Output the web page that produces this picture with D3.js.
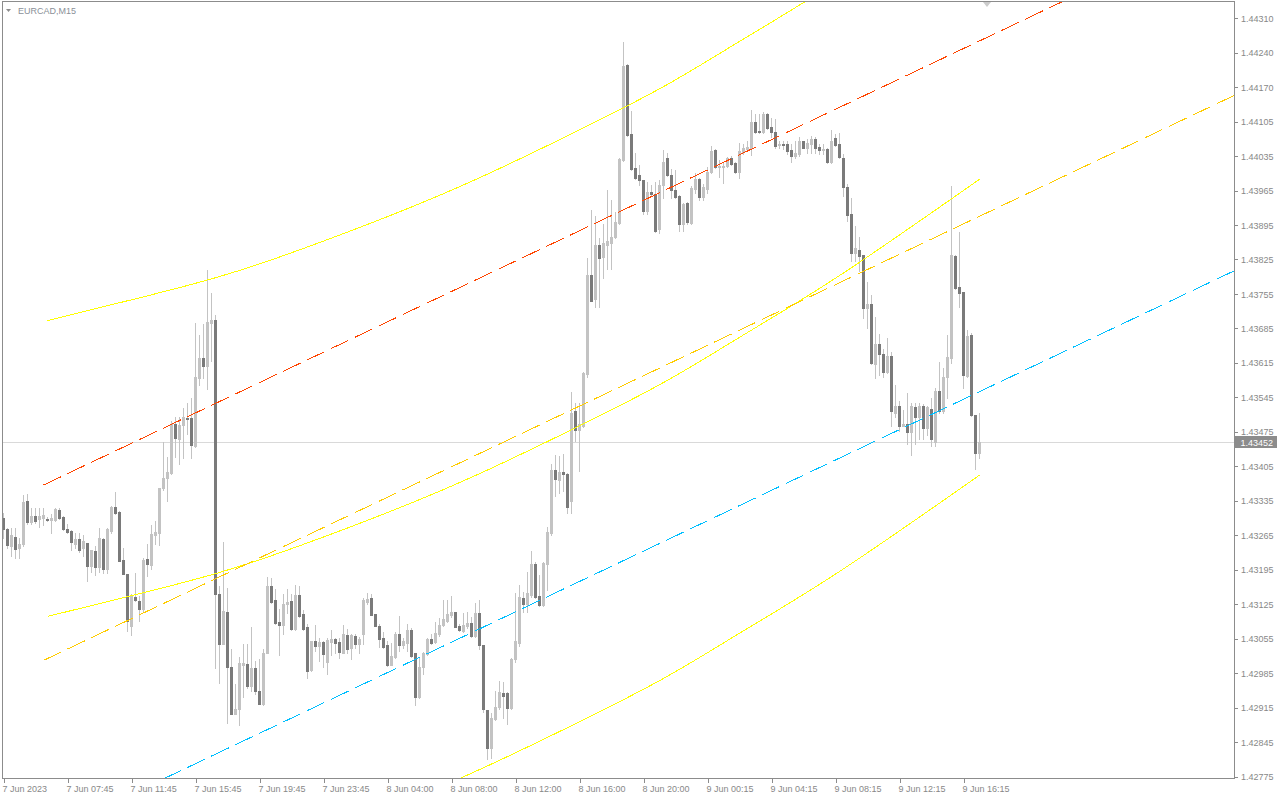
<!DOCTYPE html>
<html><head><meta charset="utf-8">
<script src="https://cdn.jsdelivr.net/npm/d3@7/dist/d3.min.js"></script>
<style>
html,body{margin:0;padding:0;background:#fff;}
svg{display:block;font-family:"Liberation Sans",Arial,sans-serif;}
</style></head><body>
<svg id="c" width="1280" height="800"></svg>
<script>
// ---- data (EURCAD M15) ----
const open=[
1.43299,1.43277,1.43242,1.43259,1.43238,1.43246,1.43333,1.43291,1.43303,1.43297,
1.43299,1.43297,1.43295,1.43295,1.43315,1.43301,1.43275,1.43271,1.43246,1.43255,
1.43238,1.43248,1.43202,1.43232,1.43200,1.43255,1.43196,1.43271,1.43321,1.43311,
1.43214,1.43184,1.43080,1.43139,1.43131,1.43115,1.43216,1.43204,1.43263,1.43267,
1.43360,1.43380,1.43390,1.43489,1.43459,1.43487,1.43500,1.43500,1.43445,1.43581,
1.43623,1.43605,1.43694,1.43700,1.43145,1.43044,1.43109,1.42997,1.42902,1.42912,
1.43001,1.43003,1.42959,1.42995,1.42949,1.42922,1.43024,1.43161,1.43133,1.43088,
1.43082,1.43125,1.43131,1.43074,1.43143,1.43103,1.43078,1.42991,1.43050,1.43040,
1.43048,1.43007,1.43048,1.43054,1.43048,1.43026,1.43062,1.43036,1.43060,1.43044,
1.43064,1.43129,1.43137,1.43103,1.43080,1.43056,1.43042,1.43001,1.43016,1.43064,
1.43042,1.43046,1.43072,1.43024,1.42935,1.42997,1.43022,1.43054,1.43048,1.43064,
1.43082,1.43090,1.43101,1.43109,1.43080,1.43070,1.43080,1.43086,1.43060,1.43105,
1.43042,1.42910,1.42833,1.42892,1.42916,1.42945,1.42945,1.42914,1.43012,1.43046,
1.43137,1.43125,1.43143,1.43206,1.43141,1.43123,1.43206,1.43267,1.43396,1.43376,
1.43392,1.43388,1.43333,1.43514,1.43477,1.43485,1.43589,1.43791,1.43741,1.43850,
1.43826,1.43850,1.43854,1.43868,1.43896,1.44022,1.44216,1.44075,1.44006,1.43992,
1.43982,1.43919,1.43959,1.43955,1.43884,1.43973,1.44026,1.43992,1.43963,1.43951,
1.43894,1.43935,1.43896,1.43965,1.43984,1.43949,1.43965,1.43998,1.44044,1.44008,
1.44008,1.44010,1.44026,1.44016,1.43998,1.44040,1.44046,1.44048,1.44099,1.44081,
1.44079,1.44117,1.44089,1.44079,1.44054,1.44056,1.44056,1.44044,1.44032,1.44036,
1.44062,1.44048,1.44056,1.44065,1.44050,1.44044,1.44046,1.44018,1.44067,1.44056,
1.44028,1.43969,1.43913,1.43834,1.43840,1.43830,1.43724,1.43732,1.43611,1.43651,
1.43631,1.43593,1.43627,1.43510,1.43524,1.43485,1.43489,1.43473,1.43522,1.43502,
1.43524,1.43481,1.43518,1.43453,1.43556,1.43514,1.43583,1.43623,1.43828,1.43765,
1.43755,1.43585,1.43668,1.43506,1.43429];
const high=[
1.43309,1.43279,1.43279,1.43279,1.43257,1.43344,1.43346,1.43319,1.43319,1.43319,
1.43319,1.43301,1.43307,1.43319,1.43319,1.43303,1.43287,1.43273,1.43267,1.43267,
1.43263,1.43248,1.43234,1.43242,1.43279,1.43257,1.43279,1.43323,1.43350,1.43313,
1.43238,1.43184,1.43145,1.43186,1.43141,1.43218,1.43246,1.43285,1.43293,1.43360,
1.43453,1.43421,1.43495,1.43502,1.43502,1.43520,1.43532,1.43542,1.43692,1.43668,
1.43690,1.43801,1.43753,1.43710,1.43161,1.43250,1.43157,1.43034,1.42963,1.43016,
1.43044,1.43044,1.43078,1.43009,1.43012,1.43034,1.43178,1.43176,1.43155,1.43115,
1.43145,1.43155,1.43145,1.43163,1.43161,1.43113,1.43084,1.43050,1.43082,1.43056,
1.43050,1.43056,1.43072,1.43056,1.43056,1.43082,1.43074,1.43064,1.43064,1.43058,
1.43137,1.43147,1.43145,1.43103,1.43084,1.43068,1.43050,1.43046,1.43068,1.43099,
1.43056,1.43084,1.43076,1.43024,1.43016,1.43028,1.43056,1.43064,1.43088,1.43095,
1.43133,1.43133,1.43141,1.43109,1.43084,1.43105,1.43107,1.43097,1.43127,1.43133,
1.43042,1.42910,1.42904,1.42949,1.42969,1.42967,1.42947,1.43014,1.43147,1.43163,
1.43149,1.43188,1.43232,1.43210,1.43182,1.43210,1.43281,1.43408,1.43425,1.43423,
1.43427,1.43390,1.43554,1.43532,1.43532,1.43593,1.43824,1.43921,1.43909,1.43866,
1.43894,1.43963,1.43941,1.43917,1.44028,1.44261,1.44218,1.44123,1.44038,1.44012,
1.43982,1.43979,1.43973,1.43979,1.43982,1.44044,1.44038,1.44004,1.44002,1.43953,
1.43935,1.43937,1.43971,1.43996,1.43986,1.43975,1.44008,1.44052,1.44046,1.44022,
1.44018,1.44030,1.44032,1.44018,1.44058,1.44056,1.44062,1.44125,1.44117,1.44117,
1.44121,1.44119,1.44107,1.44105,1.44062,1.44062,1.44062,1.44056,1.44062,1.44069,
1.44062,1.44065,1.44071,1.44069,1.44056,1.44056,1.44048,1.44083,1.44075,1.44077,
1.44036,1.43975,1.43947,1.43890,1.43868,1.43830,1.43777,1.43749,1.43706,1.43670,
1.43641,1.43662,1.43635,1.43568,1.43536,1.43516,1.43552,1.43532,1.43532,1.43532,
1.43530,1.43526,1.43542,1.43562,1.43615,1.43601,1.43668,1.43971,1.43830,1.43878,
1.43755,1.43678,1.43672,1.43506,1.43510];
const low=[
1.43257,1.43238,1.43222,1.43218,1.43218,1.43242,1.43287,1.43287,1.43289,1.43281,
1.43285,1.43293,1.43267,1.43293,1.43297,1.43273,1.43267,1.43234,1.43238,1.43230,
1.43222,1.43171,1.43188,1.43182,1.43188,1.43186,1.43186,1.43267,1.43307,1.43212,
1.43184,1.43070,1.43062,1.43131,1.43090,1.43111,1.43180,1.43196,1.43246,1.43244,
1.43354,1.43333,1.43388,1.43421,1.43408,1.43419,1.43469,1.43419,1.43441,1.43568,
1.43581,1.43560,1.43617,1.42995,1.42965,1.43044,1.42884,1.42902,1.42902,1.42880,
1.42935,1.42955,1.42949,1.42943,1.42922,1.42920,1.43024,1.43127,1.43084,1.43020,
1.43064,1.43105,1.43072,1.43072,1.43097,1.43072,1.42975,1.42989,1.43030,1.43009,
1.42997,1.42983,1.43020,1.43026,1.43014,1.43024,1.43026,1.43012,1.43036,1.43026,
1.43044,1.43125,1.43101,1.43080,1.43038,1.43036,1.42999,1.43001,1.43014,1.43030,
1.43036,1.43030,1.43016,1.42920,1.42933,1.42983,1.43020,1.43044,1.43046,1.43060,
1.43080,1.43088,1.43097,1.43078,1.43070,1.43068,1.43076,1.43058,1.43058,1.43034,
1.42906,1.42811,1.42813,1.42890,1.42912,1.42894,1.42882,1.42912,1.43007,1.43040,
1.43107,1.43107,1.43139,1.43137,1.43121,1.43121,1.43153,1.43263,1.43342,1.43348,
1.43352,1.43309,1.43309,1.43455,1.43394,1.43483,1.43583,1.43738,1.43726,1.43726,
1.43785,1.43803,1.43803,1.43866,1.43894,1.44020,1.44071,1.44002,1.43984,1.43973,
1.43913,1.43913,1.43951,1.43878,1.43876,1.43947,1.43990,1.43947,1.43947,1.43880,
1.43880,1.43894,1.43894,1.43957,1.43941,1.43943,1.43957,1.43996,1.44006,1.43988,
1.43977,1.44008,1.44012,1.43996,1.43986,1.44036,1.44042,1.44034,1.44077,1.44077,
1.44077,1.44085,1.44069,1.44048,1.44048,1.44046,1.44036,1.44018,1.44026,1.44032,
1.44048,1.44038,1.44038,1.44038,1.44036,1.44036,1.44016,1.44016,1.44052,1.44028,
1.43951,1.43900,1.43819,1.43819,1.43799,1.43704,1.43682,1.43611,1.43581,1.43587,
1.43583,1.43591,1.43485,1.43502,1.43475,1.43485,1.43449,1.43425,1.43449,1.43459,
1.43459,1.43467,1.43445,1.43445,1.43510,1.43510,1.43542,1.43613,1.43761,1.43726,
1.43562,1.43583,1.43504,1.43398,1.43419];
const close=[
1.43277,1.43244,1.43263,1.43236,1.43246,1.43331,1.43291,1.43303,1.43293,1.43303,
1.43305,1.43295,1.43299,1.43317,1.43299,1.43275,1.43269,1.43250,1.43255,1.43234,
1.43252,1.43202,1.43234,1.43200,1.43257,1.43196,1.43275,1.43321,1.43309,1.43212,
1.43184,1.43090,1.43141,1.43133,1.43115,1.43214,1.43206,1.43265,1.43269,1.43360,
1.43380,1.43392,1.43489,1.43461,1.43487,1.43502,1.43498,1.43447,1.43583,1.43623,
1.43605,1.43696,1.43700,1.43145,1.43044,1.43111,1.42997,1.42902,1.42912,1.43005,
1.43005,1.42959,1.42995,1.42949,1.42922,1.43026,1.43161,1.43129,1.43086,1.43082,
1.43125,1.43129,1.43074,1.43143,1.43099,1.43074,1.42989,1.43050,1.43040,1.43048,
1.43022,1.43052,1.43054,1.43046,1.43028,1.43064,1.43034,1.43062,1.43044,1.43054,
1.43133,1.43135,1.43101,1.43080,1.43054,1.43038,1.43001,1.43018,1.43064,1.43042,
1.43050,1.43072,1.43018,1.42935,1.42997,1.43024,1.43054,1.43046,1.43066,1.43082,
1.43093,1.43103,1.43109,1.43078,1.43072,1.43082,1.43086,1.43060,1.43105,1.43042,
1.42912,1.42833,1.42894,1.42916,1.42947,1.42937,1.42914,1.43012,1.43050,1.43139,
1.43125,1.43147,1.43206,1.43139,1.43123,1.43208,1.43269,1.43396,1.43378,1.43392,
1.43388,1.43321,1.43510,1.43477,1.43489,1.43591,1.43791,1.43738,1.43850,1.43824,
1.43854,1.43860,1.43868,1.43898,1.44024,1.44214,1.44073,1.44004,1.43986,1.43982,
1.43919,1.43959,1.43955,1.43880,1.43973,1.44018,1.43992,1.43963,1.43949,1.43894,
1.43933,1.43898,1.43967,1.43984,1.43949,1.43969,1.43998,1.44042,1.44008,1.44010,
1.44010,1.44026,1.44014,1.43998,1.44042,1.44048,1.44050,1.44099,1.44079,1.44079,
1.44117,1.44087,1.44079,1.44052,1.44056,1.44054,1.44042,1.44032,1.44038,1.44062,
1.44048,1.44058,1.44065,1.44048,1.44044,1.44046,1.44018,1.44062,1.44054,1.44030,
1.43969,1.43911,1.43834,1.43844,1.43828,1.43724,1.43732,1.43613,1.43651,1.43631,
1.43593,1.43627,1.43514,1.43526,1.43485,1.43489,1.43473,1.43524,1.43502,1.43524,
1.43481,1.43522,1.43459,1.43556,1.43514,1.43583,1.43625,1.43830,1.43763,1.43753,
1.43587,1.43666,1.43506,1.43429,1.43452];

const timeLabels=["7 Jun 2023","7 Jun 07:45","7 Jun 11:45","7 Jun 15:45","7 Jun 19:45","7 Jun 23:45",
"8 Jun 04:00","8 Jun 08:00","8 Jun 12:00","8 Jun 16:00","8 Jun 20:00","9 Jun 00:15","9 Jun 04:15",
"9 Jun 08:15","9 Jun 12:15","9 Jun 16:15"];
const timeTickBars=[0,16,32,48,64,80,96,112,128,144,160,176,192,208,224,240];
const priceLabels=["1.44310","1.44240","1.44170","1.44105","1.44035","1.43965","1.43895","1.43825",
"1.43755","1.43685","1.43615","1.43545","1.43475","1.43405","1.43335","1.43265","1.43195","1.43125",
"1.43055","1.42985","1.42915","1.42845","1.42775"];
const lastPrice=1.43452;
const symbolTitle="EURCAD,M15";

// linear regression channel (middle line anchors + deviation)
const regBars=[10,244];
const regMid=[1.43010,1.43909];
const regDev=0.00355;
// polynomial regression channel (middle curve points + deviation)
const polyBars=[11,34,54,74,99,119,139,164,184,209,244];
const polyMid=[1.43099,1.43145,1.43188,1.43242,1.43319,1.43388,1.43465,1.43568,1.43664,1.43789,1.43984];
const polyDev=0.00599;

// ---- layout ----
const PL=2.5, PT=1.5, PR=1234.5, PB=778.5;
const svg=d3.select("#c");
svg.append("rect").attr("width",1280).attr("height",800).attr("fill","#fff");

const x=d3.scaleLinear().domain([0,244]).range([3.5,979.5]);
const y=d3.scaleLinear().domain([1.42775,1.44310]).range([776.5,18.2]);

svg.append("defs").append("clipPath").attr("id","plot")
  .append("rect").attr("x",3).attr("y",2).attr("width",PR-3).attr("height",PB-2);

const plot=svg.append("g").attr("clip-path","url(#plot)");

// current price line
const yl=Math.round(y(lastPrice))+0.5;
plot.append("line").attr("x1",3).attr("x2",PR).attr("y1",yl).attr("y2",yl)
  .attr("stroke","#d9d9d9").attr("stroke-width",1).attr("shape-rendering","crispEdges");

// candles
const bars=open.map((o,i)=>({i,o,h:high[i],l:low[i],c:close[i]}));
const bull="#c3c3c3", bear="#7a7a7a";
plot.append("g").selectAll("rect").data(bars).join("rect")
  .attr("x",d=>x(d.i)-0.5).attr("width",1)
  .attr("y",d=>Math.round(y(d.h)))
  .attr("height",d=>Math.max(1,Math.round(y(d.l))-Math.round(y(d.h))+1))
  .attr("fill",bull).attr("shape-rendering","crispEdges");
plot.append("g").selectAll("rect").data(bars).join("rect")
  .attr("x",d=>x(d.i)-1.5).attr("width",3)
  .attr("y",d=>Math.round(y(Math.max(d.o,d.c))))
  .attr("height",d=>Math.max(1,Math.round(y(Math.min(d.o,d.c)))-Math.round(y(Math.max(d.o,d.c)))+1))
  .attr("fill",d=>d.c>=d.o?bull:bear).attr("shape-rendering","crispEdges");

// polynomial channel (yellow)
const polyPts=polyBars.map((b,i)=>({b,m:polyMid[i]}));
const pl=k=>d3.line().x(d=>x(d.b)).y(d=>y(d.m+k*polyDev)).curve(d3.curveNatural)(polyPts);
[1,0,-1].forEach(k=>{
  plot.append("path").attr("d",pl(k)).attr("fill","none")
    .attr("stroke","#ffff00").attr("stroke-width",1).attr("shape-rendering","crispEdges");
});

// linear regression channel (ray to the right edge)
const slope=(regMid[1]-regMid[0])/(regBars[1]-regBars[0]);
const endBar=x.invert(PR+2);
const regLine=(off,col)=>{
  plot.append("line")
    .attr("x1",x(regBars[0])).attr("y1",y(regMid[0]+off))
    .attr("x2",x(endBar)).attr("y2",y(regMid[0]+slope*(endBar-regBars[0])+off))
    .attr("stroke",col).attr("stroke-width",1).attr("stroke-dasharray","19.5,7")
    .attr("shape-rendering","crispEdges");
};
regLine(regDev,"#ff4500");
regLine(0,"#ffcc00");
regLine(-regDev,"#00bfff");

// frame
svg.append("rect").attr("x",PL).attr("y",PT).attr("width",PR-PL).attr("height",PB-PT)
  .attr("fill","none").attr("stroke","#8c8c8c").attr("shape-rendering","crispEdges");

// price axis
const n=priceLabels.length;
const pTop=+priceLabels[0], pBot=+priceLabels[n-1];
const tickVals=d3.range(n).map(i=>pTop-(pTop-pBot)*i/(n-1));
const ya=svg.append("g").attr("transform",`translate(${PR},0)`)
  .call(d3.axisRight(y).tickValues(tickVals).tickFormat((d,i)=>priceLabels[i]).tickSize(3).tickPadding(3.5));
ya.select(".domain").remove();
ya.selectAll("line").attr("stroke","#8c8c8c").attr("shape-rendering","crispEdges");
ya.selectAll("text").attr("fill","#888888").attr("font-size","9px")
  .attr("font-family","'Liberation Sans',Arial,sans-serif").attr("dy","0.34em");

// time axis
const xa=svg.append("g").attr("transform",`translate(0,${PB})`)
  .call(d3.axisBottom(x).tickValues(timeTickBars).tickFormat((d,i)=>timeLabels[i]).tickSize(4));
xa.select(".domain").remove();
xa.selectAll("line").attr("stroke","#8c8c8c").attr("shape-rendering","crispEdges");
xa.selectAll("text").attr("fill","#888888").attr("font-size","9px")
  .attr("font-family","'Liberation Sans',Arial,sans-serif")
  .attr("text-anchor","start").attr("x",-1.5).attr("y",13).attr("dy",0);

// last price tag
svg.append("rect").attr("x",1235).attr("y",yl-6.5).attr("width",42).attr("height",12)
  .attr("fill","#8c8c8c").attr("shape-rendering","crispEdges");
svg.append("text").attr("x",1240.5).attr("y",yl+3.2).attr("fill","#fff")
  .attr("font-size","9px").text(lastPrice.toFixed(5));

// title
svg.append("path").attr("d","M6,9 L11,9 L8.5,12 Z").attr("fill","#8c8c8c");
svg.append("text").attr("x",18).attr("y",14).attr("fill","#8a9098").attr("font-size","9px").text(symbolTitle);

// chart-shift marker
svg.append("path").attr("d","M983,2 L991,2 L987,7 Z").attr("fill","#cccccc");
</script>
</body></html>
